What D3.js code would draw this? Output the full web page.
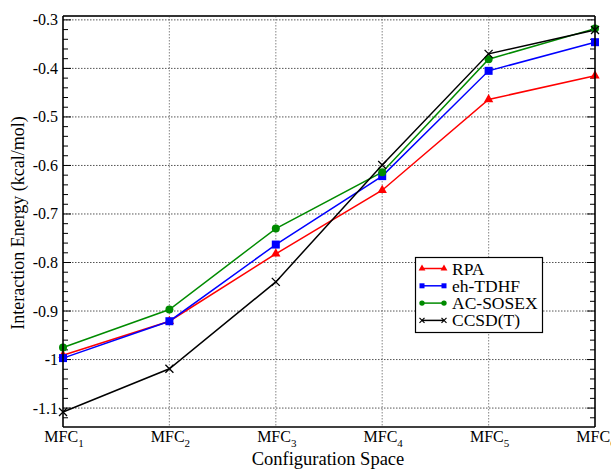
<!DOCTYPE html>
<html>
<head>
<meta charset="utf-8">
<script src="https://cdn.jsdelivr.net/npm/d3@7"></script>
<style>
  body { margin: 0; background: #fff; }
  svg { display: block; font-family: "Liberation Serif", "Times New Roman", serif; }
</style>
</head>
<body>
<svg id="chart" width="611" height="469"></svg>
<script>
// data
const categories = ["1", "2", "3", "4", "5", "6"];
const rpa      = [-0.991, -0.921, -0.782, -0.651, -0.464, -0.415];
const ehTdhf   = [-0.997, -0.921, -0.763, -0.622, -0.405, -0.346];
const acSosex  = [-0.975, -0.897, -0.730, -0.614, -0.381, -0.318];
const ccsdT    = [-1.108, -1.019, -0.840, -0.599, -0.370, -0.321];
const yTicks   = [-1.1, -1, -0.9, -0.8, -0.7, -0.6, -0.5, -0.4, -0.3];

const series = [
  { name: "RPA",      values: rpa,     col: "#ff0000", sym: "triangle" },
  { name: "eh-TDHF",  values: ehTdhf,  col: "#0000ff", sym: "square" },
  { name: "AC-SOSEX", values: acSosex, col: "#008b00", sym: "circle" },
  { name: "CCSD(T)",  values: ccsdT,   col: "#000000", sym: "cross" }
];

const svg = d3.select("#chart");
const m = { left: 63, right: 595, top: 16, bottom: 427 };

const x = d3.scalePoint().domain(categories).range([m.left, m.right]);
const y = d3.scaleLinear().domain([-1.139, -0.292]).range([m.bottom, m.top]);

// grid
const grid = svg.append("g").attr("class", "grid");
grid.selectAll("line.v")
  .data(categories.slice(1, -1))
  .join("line")
  .attr("class", "v")
  .attr("x1", d => x(d)).attr("x2", d => x(d))
  .attr("y1", m.top).attr("y2", m.bottom)
  .attr("stroke", "#999").attr("stroke-width", 1.2)
  .attr("stroke-dasharray", "1.5,1.5");
grid.selectAll("line.h")
  .data(yTicks)
  .join("line")
  .attr("class", "h")
  .attr("x1", m.left).attr("x2", m.right)
  .attr("y1", d => y(d)).attr("y2", d => y(d))
  .attr("stroke", "#555").attr("stroke-width", 1)
  .attr("stroke-dasharray", "1.5,1.5");

// minor/major ticks on left and right (inward)
const minor = d3.range(-1.14, -0.289, 0.02).map(v => +v.toFixed(2));
const tk = svg.append("g").attr("class", "ticks");
minor.forEach(v => {
  const yy = y(v);
  if (yy < m.top || yy > m.bottom) return;
  const isMajor = yTicks.some(t => Math.abs(t - v) < 1e-6);
  const len = isMajor ? 8 : 5;
  tk.append("line").attr("x1", m.left).attr("x2", m.left + len)
    .attr("y1", yy).attr("y2", yy).attr("stroke", "#000").attr("stroke-width", 1);
  tk.append("line").attr("x1", m.right).attr("x2", m.right - len)
    .attr("y1", yy).attr("y2", yy).attr("stroke", "#000").attr("stroke-width", 1);
});

// y tick labels (plain hyphen as in the original)
svg.append("g").selectAll("text")
  .data(yTicks)
  .join("text")
  .attr("x", 58).attr("y", d => y(d) + 5.5)
  .attr("text-anchor", "end")
  .style("font-size", "16px")
  .text(d => String(d));

// x tick labels with subscripts
const xl = svg.append("g").selectAll("text")
  .data(categories)
  .join("text")
  .attr("x", d => x(d) + 1).attr("y", 442)
  .attr("text-anchor", "middle")
  .style("font-size", "16px");
xl.append("tspan").text("MFC");
xl.append("tspan").attr("dy", 5).style("font-size", "11px").text(d => d);

// lines
const line = d3.line().x((d, i) => x(categories[i])).y(d => y(d));
svg.append("g").selectAll("path")
  .data(series)
  .join("path")
  .attr("d", d => line(d.values))
  .attr("fill", "none")
  .attr("stroke", d => d.col)
  .attr("stroke-width", 1.5);

// markers
function marker(g, sym, col, cx, cy) {
  if (sym === "triangle") {
    g.append("path").attr("d", d3.symbol(d3.symbolTriangle, 38)())
      .attr("transform", `translate(${cx},${cy})`).attr("fill", col);
  } else if (sym === "square") {
    g.append("rect").attr("x", cx - 4).attr("y", cy - 4).attr("width", 8).attr("height", 8).attr("fill", col);
  } else if (sym === "circle") {
    g.append("circle").attr("cx", cx).attr("cy", cy).attr("r", 4).attr("fill", col);
  } else {
    g.append("path").attr("d", `M${cx-4},${cy-4}L${cx+4},${cy+4}M${cx-4},${cy+4}L${cx+4},${cy-4}`)
      .attr("stroke", col).attr("stroke-width", 1.3);
  }
}
const mk = svg.append("g");
series.forEach(s => s.values.forEach((v, i) => marker(mk, s.sym, s.col, x(categories[i]), y(v))));

// frame
svg.append("line").attr("x1", m.left).attr("x2", m.right).attr("y1", m.top).attr("y2", m.top)
  .attr("stroke", "#333").attr("stroke-width", 2.2);
svg.append("line").attr("x1", m.left).attr("x2", m.right).attr("y1", m.bottom).attr("y2", m.bottom)
  .attr("stroke", "#000").attr("stroke-width", 1.6);
svg.append("line").attr("x1", m.left).attr("x2", m.left).attr("y1", m.top).attr("y2", m.bottom)
  .attr("stroke", "#000").attr("stroke-width", 1.6);
svg.append("line").attr("x1", m.right).attr("x2", m.right).attr("y1", m.top).attr("y2", m.bottom)
  .attr("stroke", "#000").attr("stroke-width", 1.6);

// axis titles
svg.append("text").attr("x", 328).attr("y", 465).attr("text-anchor", "middle")
  .style("font-size", "18.5px").text("Configuration Space");
svg.append("text").attr("transform", "translate(24,223) rotate(-90)").attr("text-anchor", "middle")
  .style("font-size", "18px").text("Interaction Energy (kcal/mol)");

// legend
const lg = svg.append("g");
lg.append("rect").attr("x", 415.5).attr("y", 257.5).attr("width", 127).attr("height", 75)
  .attr("fill", "#fff").attr("stroke", "#000").attr("stroke-width", 1.2);
series.forEach((s, i) => {
  const yy = 268.5 + i * 17.3;
  lg.append("line").attr("x1", 422).attr("x2", 444).attr("y1", yy).attr("y2", yy)
    .attr("stroke", s.col).attr("stroke-width", 1.5);
  [422, 444].forEach(xx => {
    if (s.sym === "cross") {
      lg.append("path").attr("d", `M${xx-2.5},${yy-2.5}L${xx+2.5},${yy+2.5}M${xx-2.5},${yy+2.5}L${xx+2.5},${yy-2.5}`)
        .attr("stroke", s.col).attr("stroke-width", 1.2);
    } else if (s.sym === "triangle") {
      lg.append("path").attr("d", d3.symbol(d3.symbolTriangle, 20)()).attr("transform", `translate(${xx},${yy})`).attr("fill", s.col);
    } else if (s.sym === "square") {
      lg.append("rect").attr("x", xx - 2.5).attr("y", yy - 2.5).attr("width", 5).attr("height", 5).attr("fill", s.col);
    } else {
      lg.append("circle").attr("cx", xx).attr("cy", yy).attr("r", 2.7).attr("fill", s.col);
    }
  });
  lg.append("text").attr("x", 452).attr("y", yy + 6).style("font-size", "17.5px").text(s.name);
});
</script>
</body>
</html>
